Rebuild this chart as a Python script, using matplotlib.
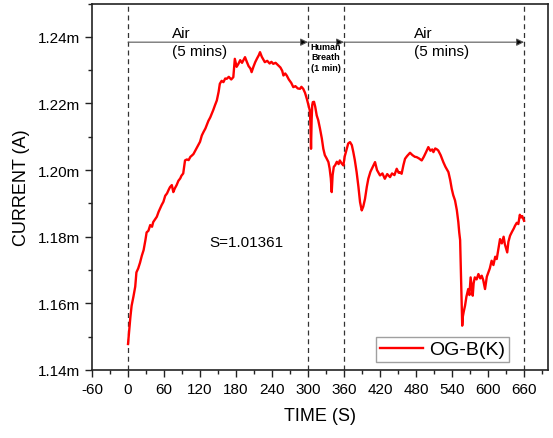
import matplotlib
matplotlib.use("Agg")
import matplotlib.pyplot as plt
from matplotlib.ticker import MultipleLocator, FuncFormatter

plt.rcParams["font.family"] = ["Liberation Sans", "DejaVu Sans"]
plt.rcParams["axes.unicode_minus"] = False

# OG-B(K) sensor response, current in mA, split by phase of the run
rise_t = [0, 2, 4, 6, 9, 12, 14, 17, 20, 23,
          26, 29, 31, 34, 37, 40, 42, 45, 48, 51,
          53, 56, 59, 62, 65, 68, 70, 73, 75.5, 78,
          81, 84, 87, 89, 92, 95, 98, 101, 104, 106,
          109, 112, 114, 117, 120, 123, 126, 129, 131, 134,
          137, 139.5, 142, 145, 148, 151, 153]
rise_i = [1.1478, 1.1520, 1.1560, 1.1593, 1.1620, 1.1650, 1.1693, 1.1705, 1.1722, 1.1743,
          1.1760, 1.1790, 1.1813, 1.1818, 1.1835, 1.1830, 1.1844, 1.1852, 1.1860, 1.1875,
          1.1883, 1.1895, 1.1905, 1.1923, 1.1930, 1.1942, 1.1949, 1.1955, 1.1934, 1.1945,
          1.1955, 1.1968, 1.1975, 1.1983, 1.1990, 1.2029, 1.2032, 1.2030, 1.2040, 1.2043,
          1.2048, 1.2058, 1.2064, 1.2075, 1.2085, 1.2104, 1.2115, 1.2125, 1.2134, 1.2148,
          1.2158, 1.2169, 1.2180, 1.2195, 1.2209, 1.2235, 1.2259]

plateau_t = [156, 159, 162, 164.5, 168, 172, 175.5, 178, 181, 184,
             187, 190, 193, 195, 198, 201, 204, 206, 209, 212,
             215, 218, 220, 223, 226, 228, 232, 236, 239, 242,
             246, 250.5, 254, 257, 259, 262, 264.5, 268, 272, 275.5,
             279, 283, 286.7, 289, 292, 295, 298]
plateau_i = [1.2268, 1.2264, 1.2275, 1.2274, 1.2280, 1.2272, 1.2279, 1.2334, 1.2310, 1.2319,
             1.2330, 1.2322, 1.2332, 1.2339, 1.2325, 1.2312, 1.2305, 1.2294, 1.2310, 1.2324,
             1.2335, 1.2345, 1.2354, 1.2340, 1.2330, 1.2324, 1.2328, 1.2320, 1.2325, 1.2319,
             1.2322, 1.2314, 1.2308, 1.2298, 1.2284, 1.2290, 1.2284, 1.2272, 1.2262, 1.2249,
             1.2252, 1.2245, 1.2244, 1.2250, 1.2244, 1.2232, 1.2214]

breath_t = [300, 302, 303, 304, 305, 306, 307, 308, 310, 312,
            314.5, 317, 320, 323, 325.5, 328, 331, 334, 336, 338,
            339.5, 341, 343, 345, 348, 351, 353, 356, 359]
breath_i = [1.2200, 1.2185, 1.2179, 1.2140, 1.2064, 1.2150, 1.2195, 1.2204, 1.2205, 1.2190,
            1.2164, 1.2150, 1.2124, 1.2095, 1.2064, 1.2045, 1.2035, 1.2024, 1.2005, 1.1975,
            1.1934, 1.1985, 1.2010, 1.2014, 1.2025, 1.2018, 1.2029, 1.2020, 1.2014]

recovery_t = [361, 364.5, 367, 370, 373, 375.5, 378, 381, 384, 386.7,
              389.5, 392, 395, 398, 400.5, 404, 408, 411.7, 415, 418,
              420, 424, 428, 432, 436.7, 440, 444, 447.8, 451, 453,
              456, 459, 461.7, 465, 468, 470, 474, 478, 481, 485,
              489.5, 493, 497, 500.5, 504, 507, 509, 512, 515,
              517, 521, 525.5, 529, 532, 534, 537, 539.5, 542, 545]
recovery_i = [1.2040, 1.2064, 1.2080, 1.2084, 1.2075, 1.2054, 1.2030, 1.1994, 1.1950, 1.1904,
              1.1879, 1.1890, 1.1914, 1.1950, 1.1974, 1.1995, 1.2010, 1.2024, 1.2000, 1.1990,
              1.1984, 1.1990, 1.1974, 1.1988, 1.1979, 1.1990, 1.1985, 1.2004, 1.1992, 1.1994,
              1.1989, 1.2015, 1.2034, 1.2042, 1.2048, 1.2052, 1.2045, 1.2040, 1.2039, 1.2035,
              1.2029, 1.2040, 1.2055, 1.2069, 1.2058, 1.2062, 1.2054, 1.2065, 1.2062,
              1.2059, 1.2045, 1.2024, 1.2010, 1.2000, 1.1994, 1.1970, 1.1944, 1.1925, 1.1909]

drop_t = [548, 550.5, 552, 553.5, 555, 556, 557, 558, 559.5, 561.7,
          564, 567, 569, 571, 572.5, 574.5, 576, 578, 581, 584,
          587, 589.5, 592, 595, 598, 600.5, 603, 606, 609, 612,
          614.5, 617, 620, 623, 626, 628, 630, 632, 634, 636.7,
          640, 643, 645, 648, 650.5, 653, 655, 657, 660]
drop_i = [1.1880, 1.1844, 1.1813, 1.1790, 1.1683, 1.1600, 1.1533, 1.1560, 1.1575, 1.1593,
          1.1620, 1.1643, 1.1625, 1.1678, 1.1655, 1.1623, 1.1660, 1.1678, 1.1672, 1.1688,
          1.1675, 1.1683, 1.1670, 1.1643, 1.1680, 1.1693, 1.1705, 1.1728, 1.1715, 1.1740,
          1.1733, 1.1760, 1.1793, 1.1780, 1.1800, 1.1778, 1.1765, 1.1753, 1.1785, 1.1803,
          1.1815, 1.1825, 1.1833, 1.1842, 1.1838, 1.1866, 1.1858, 1.1862, 1.1848]

time_s = rise_t + plateau_t + breath_t + recovery_t + drop_t
current_mA = rise_i + plateau_i + breath_i + recovery_i + drop_i

phase_edges = [0, 300, 360, 660]
arrow_level = 1.2384
series_label = "OG-B(K)"
sensitivity_text = "S=1.01361"

fig = plt.figure(figsize=(5.53, 4.39), dpi=100)
ax = fig.add_axes([0.1664, 0.1549, 0.8246, 0.8348])

ax.plot(time_s, current_mA, color="#ff0000", linewidth=1.7, label=series_label, zorder=3)

for edge in phase_edges:
    ax.axvline(edge, color="#333333", linestyle=(0, (4, 3)), linewidth=0.9, zorder=1)

# phase arrows along the top
for start, end in zip(phase_edges[:-1], phase_edges[1:]):
    ax.annotate("", xy=(end, arrow_level), xytext=(start, arrow_level),
                arrowprops=dict(arrowstyle="-|>", color="#555555", lw=0.8,
                                mutation_scale=11, shrinkA=0, shrinkB=0,
                                fc="black", ec="#555555"))

ax.text(74, 1.2412, "Air", fontsize=11, va="center", ha="left")
ax.text(74, 1.2358, "(5 mins)", fontsize=11, va="center", ha="left")
ax.text(477, 1.2412, "Air", fontsize=11, va="center", ha="left")
ax.text(477, 1.2358, "(5 mins)", fontsize=11, va="center", ha="left")
ax.text(330, 1.2340, "Human\nBreath\n(1 min)", fontsize=6.5, fontweight="bold",
        ha="center", va="center", linespacing=1.25)
ax.text(135, 1.1784, sensitivity_text, fontsize=11, va="center", ha="left")

ax.set_xlim(-60, 700)
ax.set_ylim(1.14, 1.25)
ax.xaxis.set_major_locator(MultipleLocator(60))
ax.xaxis.set_minor_locator(MultipleLocator(30))
ax.yaxis.set_major_locator(MultipleLocator(0.02))
ax.yaxis.set_minor_locator(MultipleLocator(0.01))
ax.yaxis.set_major_formatter(FuncFormatter(lambda v, pos: f"{v:.2f}m"))

ax.tick_params(which="major", direction="out", length=5, width=1.0, labelsize=11,
               color="#222222")
ax.tick_params(which="minor", direction="out", length=3, width=1.0, color="#222222")
for spine in ax.spines.values():
    spine.set_linewidth(1.2)
    spine.set_color("#222222")

ax.set_xlabel("TIME (S)", fontsize=13, labelpad=8)
ax.set_ylabel("CURRENT (A)", fontsize=13, labelpad=6)

leg = ax.legend(loc="lower right", bbox_to_anchor=(0.914, 0.021), borderaxespad=0,
                fontsize=14, frameon=True, fancybox=False, handlelength=2.2,
                borderpad=0.2, handletextpad=0.3)
leg.get_frame().set_edgecolor("#888888")
leg.get_frame().set_linewidth(1.0)

fig.savefig("out.png", dpi=100)
